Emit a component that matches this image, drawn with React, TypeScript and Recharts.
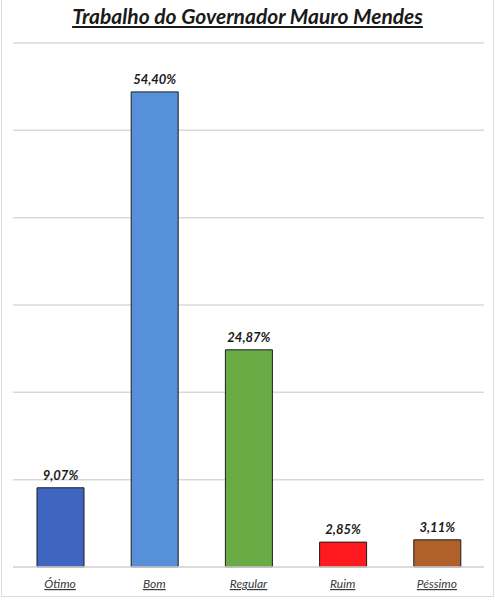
import { BarChart, Bar, XAxis, YAxis, CartesianGrid, Cell, LabelList } from 'recharts'

const categories = ['Ótimo', 'Bom', 'Regular', 'Ruim', 'Péssimo']
const values = [9.07, 54.4, 24.87, 2.85, 3.11]
const colors = ['#4065c1', '#5590d8', '#6aab46', '#ff1a1f', '#b0602b']
const yTicks = [0, 10, 20, 30, 40, 50, 60]

const data = categories.map((name, i) => ({ name, value: values[i] }))

const font = 'Lato, "Open Sans", sans-serif'

function CategoryTick(props: any) {
    const { x, y, payload } = props
    return (
        <text
            x={x}
            y={y + 13}
            textAnchor="middle"
            fill="#3a3a3a"
            fontSize={12}
            fontStyle="italic"
            fontFamily={font}
            textDecoration="underline"
        >
            {payload.value}
        </text>
    )
}

export default function App() {
    return (
        <div style={{ position: 'absolute', left: 0, top: 0, width: 495, height: 600, background: '#fff' }}>
            <div
                style={{
                    position: 'absolute',
                    left: 1,
                    top: 0,
                    width: 491,
                    height: 596,
                    border: '1px solid #dcdcdc',
                    borderTop: 'none',
                }}
            />
            <div
                style={{
                    position: 'absolute',
                    left: 0,
                    top: 3,
                    width: 495,
                    textAlign: 'center',
                    fontFamily: font,
                    fontSize: 21,
                    fontWeight: 700,
                    fontStyle: 'italic',
                    textDecoration: 'underline',
                    color: '#1a1a1a',
                }}
            >
                Trabalho do Governador Mauro Mendes
            </div>
            <div style={{ position: 'absolute', left: 0, top: 0 }}>
                <BarChart
                    width={495}
                    height={600}
                    data={data}
                    margin={{ top: 43, right: 11, left: 13, bottom: 3 }}
                >
                    <CartesianGrid vertical={false} stroke="#d9d9d9" strokeWidth={1.5} />
                    <YAxis hide domain={[0, 60]} ticks={yTicks} />
                    <XAxis
                        dataKey="name"
                        height={30}
                        axisLine={{ stroke: '#d9d9d9', strokeWidth: 1.5 }}
                        tickLine={false}
                        tick={<CategoryTick />}
                        interval={0}
                    />
                    <Bar dataKey="value" barSize={47} stroke="#1c1c1c" strokeWidth={1} isAnimationActive={false}>
                        {data.map((d, i) => (
                            <Cell key={d.name} fill={colors[i]} />
                        ))}
                        <LabelList
                            dataKey="value"
                            position="top"
                            offset={8}
                            formatter={(v: any) => `${Number(v).toFixed(2).replace('.', ',')}%`}
                            style={{ fill: '#1a1a1a', fontSize: 13, fontWeight: 700, fontStyle: 'italic', fontFamily: font }}
                        />
                    </Bar>
                </BarChart>
            </div>
        </div>
    )
}
